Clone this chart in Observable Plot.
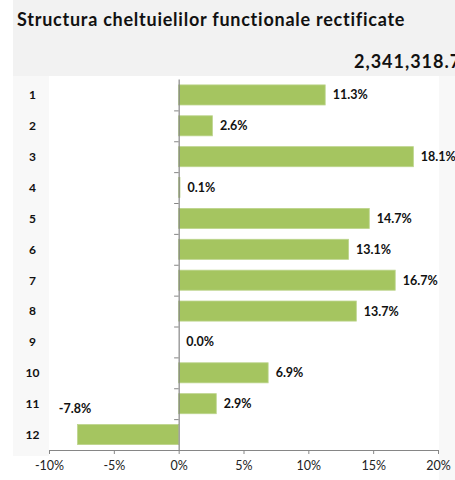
<!DOCTYPE html>
<html>
<head>
<meta charset="utf-8">
<script src="https://cdn.jsdelivr.net/npm/d3@7"></script>
<script src="https://cdn.jsdelivr.net/npm/@observablehq/plot@0.6"></script>
<style>
  html, body { margin: 0; padding: 0; background: #fff; }
  #wrap { position: relative; width: 455px; height: 480px; overflow: hidden; font-family: Lato, "Open Sans", sans-serif; }
  #banner { position: absolute; left: 13px; top: 0; width: 442px; height: 76px; background: #f2f2f2; }
  #title { position: absolute; left: 17px; top: 8px; font-size: 18px; letter-spacing: 0.75px; font-weight: bold; color: #111; white-space: nowrap; }
  #total { position: absolute; left: 354px; top: 50px; font-size: 18px; letter-spacing: 1px; font-weight: bold; color: #111; white-space: nowrap; }
  #lcol { position: absolute; left: 13px; top: 76px; width: 36px; height: 380px; background: #f8f8f8; }
  #rcol { position: absolute; left: 439px; top: 76px; width: 16px; height: 404px; background: #f8f8f8; }
  #chart { position: absolute; left: 0; top: 78px; }
</style>
</head>
<body>
<div id="wrap">
  <div id="banner"></div>
  <div id="lcol"></div>
  <div id="rcol"></div>
  <div id="title">Structura cheltuielilor functionale rectificate</div>
  <div id="total">2,341,318.7</div>
  <div id="chart"></div>
</div>
<script>
const categories = ["1","2","3","4","5","6","7","8","9","10","11","12"];
const values = [11.3, 2.6, 18.1, 0.1, 14.7, 13.1, 16.7, 13.7, 0.0, 6.9, 2.9, -7.8];
const xTicks = [-10, -5, 0, 5, 10, 15, 20];

const data = categories.map((c, i) => ({cat: c, value: values[i]}));
const pos = data.filter(d => d.value >= 0);
const neg = data.filter(d => d.value < 0);
const fmt = v => v.toFixed(1) + "%";
const barColor = "#a5c560";
const axisColor = "#868686";

const chart = Plot.plot({
  width: 455,
  height: 402,
  marginTop: 1.5,
  marginBottom: 30,
  marginLeft: 49,
  marginRight: 17,
  style: { fontFamily: "Lato, 'Open Sans', sans-serif", background: "transparent", color: "#111" },
  x: { domain: [-10, 20], ticks: xTicks, tickFormat: d => d + "%", label: null },
  y: { domain: categories, paddingInner: 0.35, paddingOuter: 0.175, round: false, label: null, axis: null },
  marks: [
    Plot.barX(data, { x: "value", y: "cat", fill: barColor, stroke: "#bcd48c", strokeWidth: 0.8 }),
    Plot.ruleX([0], { stroke: axisColor, strokeWidth: 1.2 }),
    Plot.ruleY(categories, { y: d => d, x1: -0.35, x2: 0, dy: 15.45, stroke: axisColor }),
    Plot.frame({ anchor: "bottom", stroke: axisColor }),
    Plot.axisX({ ticks: xTicks, tickFormat: d => d + "%", tickSize: 4, tickPadding: 7, stroke: axisColor, fontSize: 12.5, color: "#222", label: null }),
    Plot.text(pos, { x: "value", y: "cat", text: d => fmt(d.value), textAnchor: "start", dx: 7, fontWeight: "bold", fontSize: 12.5, fill: "#111" }),
    Plot.text(neg, { x: "value", y: "cat", text: d => fmt(d.value), textAnchor: "middle", dx: -3, dy: -26, fontWeight: "bold", fontSize: 12.5, fill: "#111" }),
    Plot.text(categories, { y: d => d, frameAnchor: "left", dx: -17, textAnchor: "middle", fontWeight: "bold", fontSize: 12, fill: "#111" })
  ]
});
document.getElementById("chart").appendChild(chart);
</script>
</body>
</html>
